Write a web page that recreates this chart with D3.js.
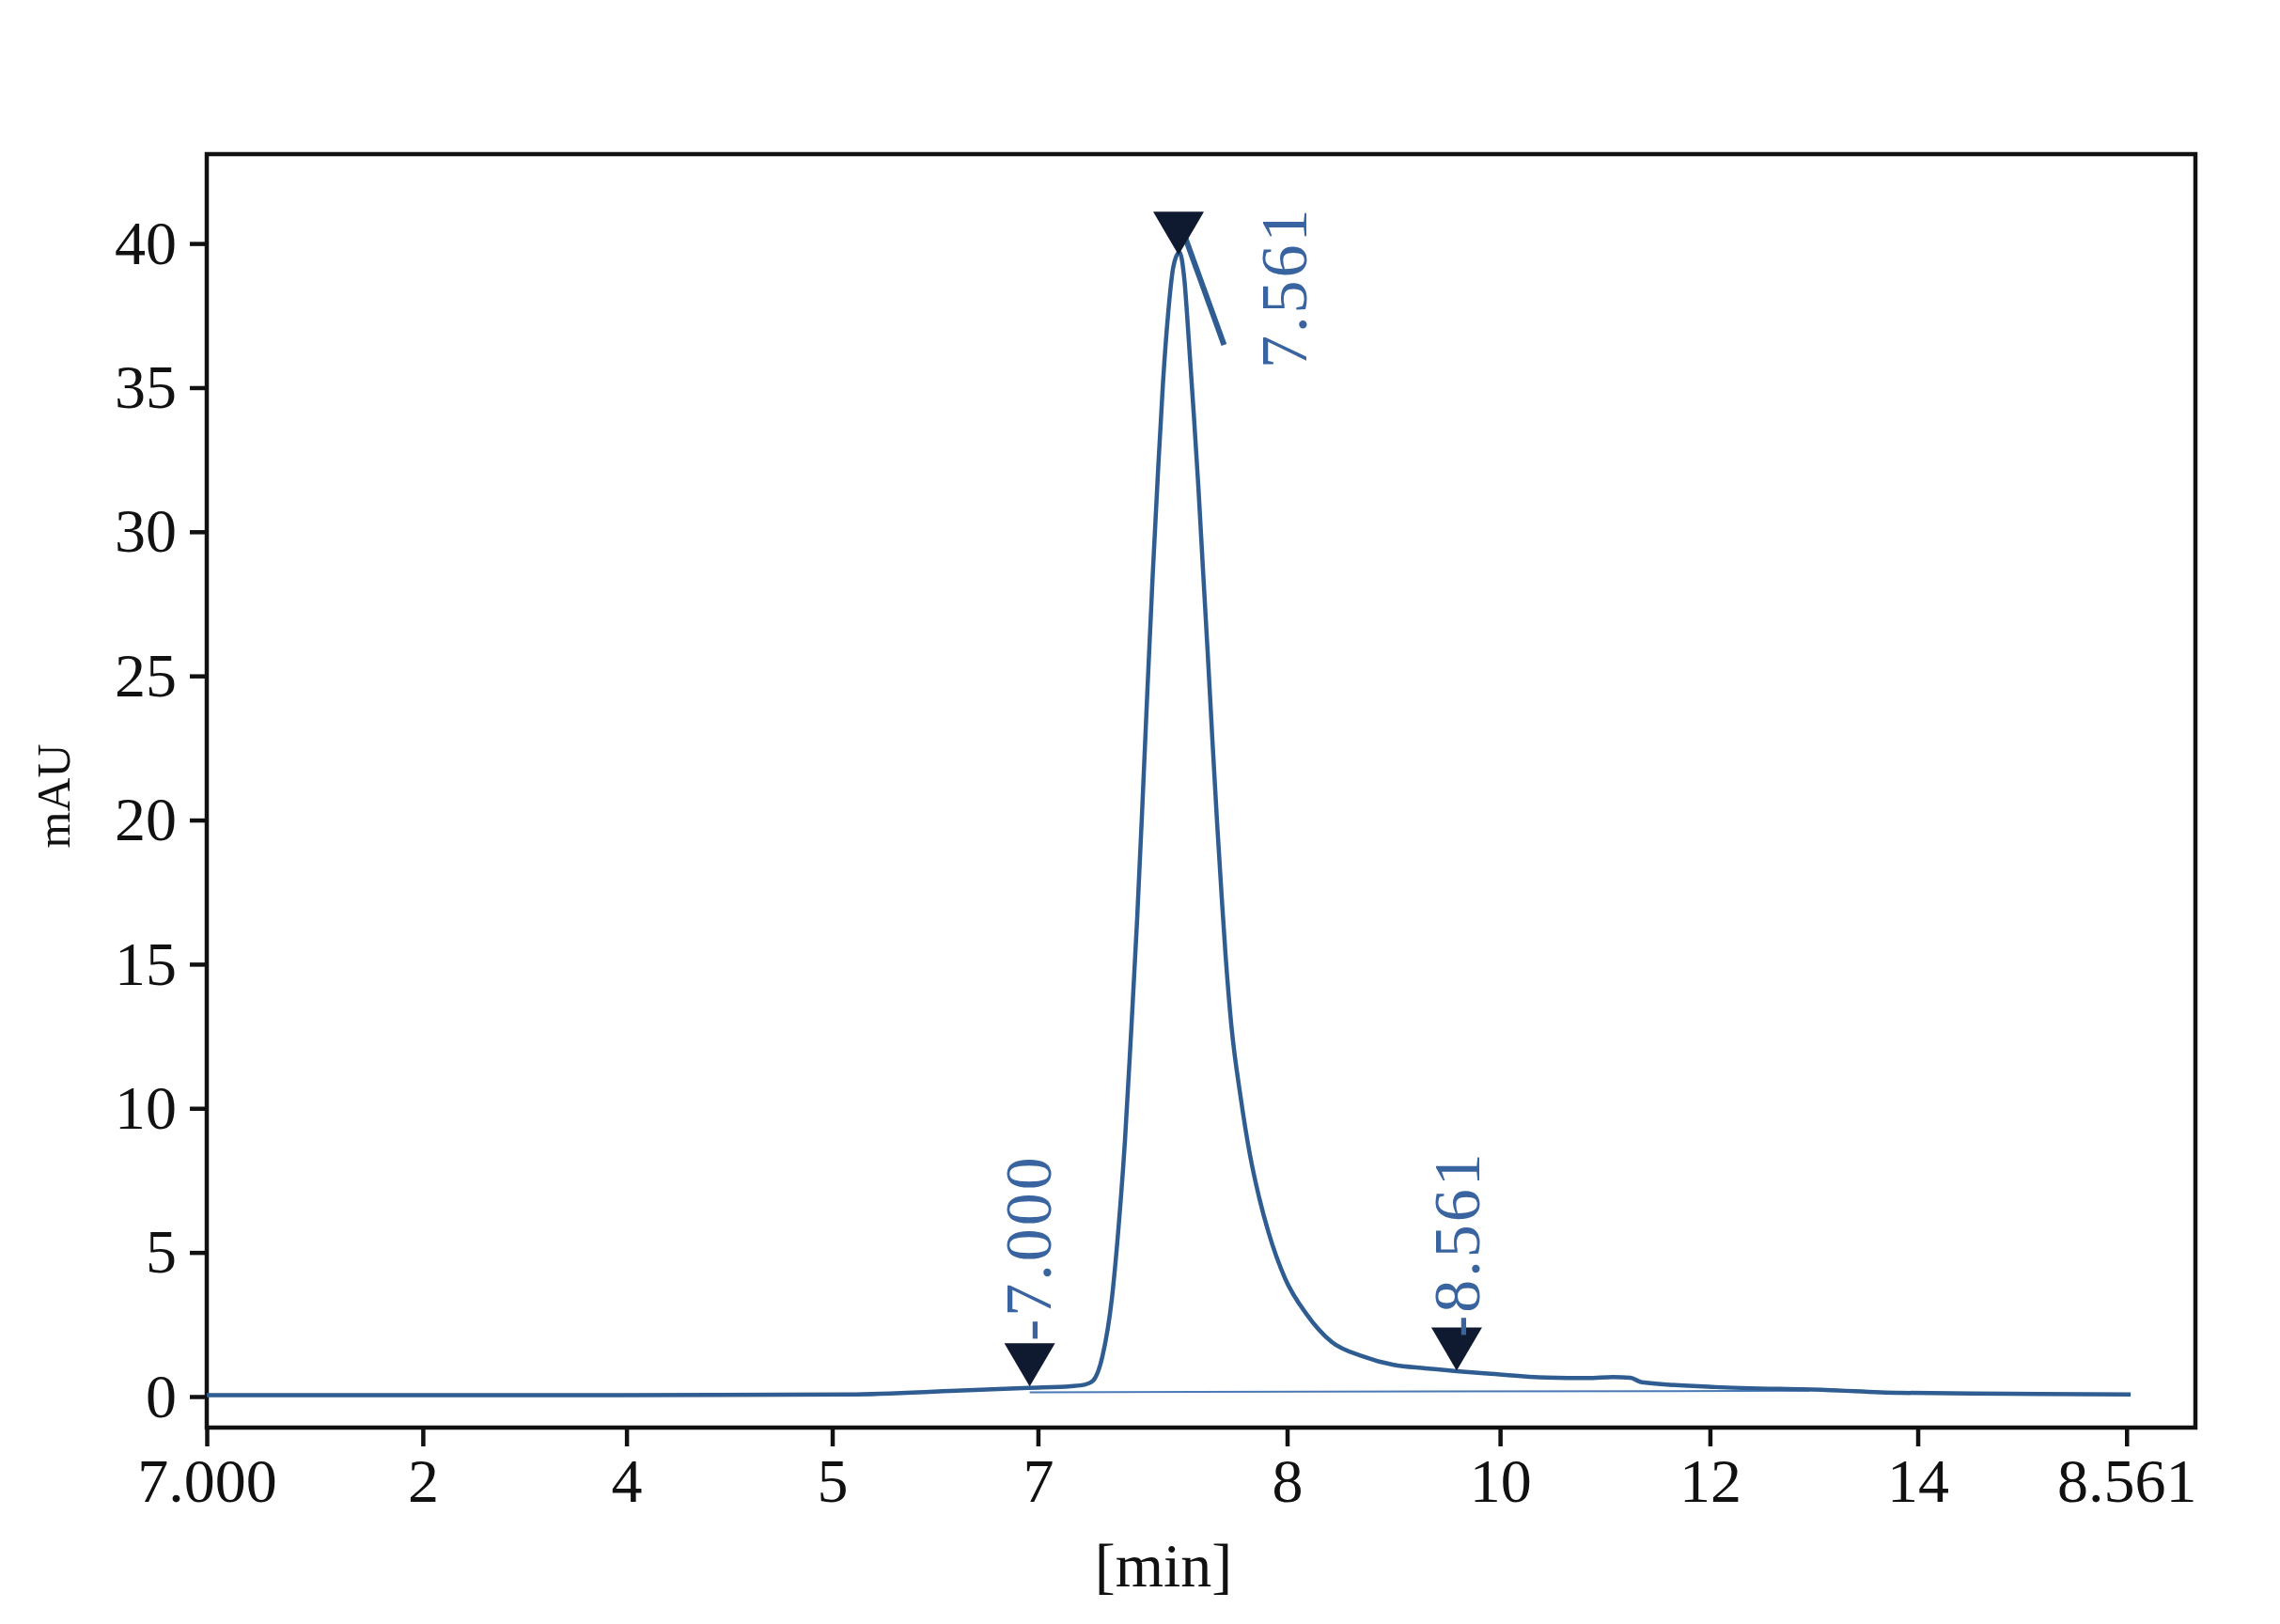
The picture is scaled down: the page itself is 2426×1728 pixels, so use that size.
<!DOCTYPE html>
<html>
<head>
<meta charset="utf-8">
<script src="https://cdn.jsdelivr.net/npm/d3@7/dist/d3.min.js"></script>
<style>
  html, body { margin: 0; padding: 0; background: #ffffff; }
  svg { display: block; }
  text { font-family: "Liberation Serif", "Times New Roman", serif; }
</style>
</head>
<body>
<svg id="chart" width="2426" height="1728"></svg>
<script>
// ---- data ----
const timeMin = [0, 2.09, 4.06, 6.21, 7.25, 7.95, 8.36, 8.50, 8.573, 8.664, 8.755, 8.818, 8.882, 8.936, 9.00, 9.05, 9.10, 9.15, 9.20, 9.25, 9.30, 9.35, 9.409, 9.455, 9.50, 9.545, 9.591, 9.636, 9.682, 9.727, 9.773, 9.818, 9.855, 9.91, 10.00, 10.09, 10.18, 10.27, 10.43, 10.64, 10.88, 11.18, 11.48, 11.79, 12.09, 12.39, 12.96, 13.36, 13.60, 13.77, 13.88, 14.59, 15.66, 16.37, 17.44, 18.61];
const signal = [0.05, 0.05, 0.05, 0.07, 0.2, 0.3, 0.36, 0.42, 0.55, 1.4, 3.4, 5.8, 8.9, 12.3, 16.6, 20.5, 24.6, 28.5, 32.0, 35.2, 37.6, 39.2, 39.7, 38.8, 36.6, 34.2, 31.6, 28.7, 25.8, 22.8, 19.9, 17.3, 15.3, 12.9, 10.4, 8.4, 6.9, 5.7, 4.1, 2.85, 1.9, 1.4, 1.1, 0.98, 0.88, 0.8, 0.66, 0.64, 0.68, 0.65, 0.5, 0.33, 0.23, 0.13, 0.10, 0.07];

const xTickValues = [0, 2.09, 4.06, 6.05, 8.04, 10.45, 12.51, 14.54, 16.55, 18.57];
const xTickLabels = ["7.000", "2", "4", "5", "7", "8", "10", "12", "14", "8.561"];
const yTickValues = [0, 5, 10, 15, 20, 25, 30, 35, 40];

const markerTimes = [7.96, 9.40, 12.09];
const markerValues = [0.35, 39.6, 0.9];
const markerLabels = ["-7.000", "7.561", "-8.561"];

const baselineTimes = [7.96, 15.5];
const baselineValues = [0.15, 0.2];

const peakLeaderTimes = [9.40, 9.84];
const peakLeaderValues = [40.85, 36.48];

// ---- drawing ----
(function () {
const svg = d3.select("#chart");
const mLeft = 220, mRight = 2336, mTop = 164, mBottom = 1519;

const x = d3.scaleLinear().domain([0, 19.236]).range([mLeft, mRight]);
const y = d3.scaleLinear().domain([-1.076, 43.1]).range([mBottom, mTop]);

const curveColor = "#2f5d91";
const labelColor = "#3a64a0";
const markerColor = "#0f1a30";
const serif = "'Liberation Serif', 'Times New Roman', serif";

svg.append("rect").attr("width", 2426).attr("height", 1728).attr("fill", "#ffffff");

// axes
const xAxis = d3.axisBottom(x)
  .tickValues(xTickValues)
  .tickFormat((d, i) => xTickLabels[i])
  .tickSize(20).tickPadding(12);
const gx = svg.append("g").attr("transform", `translate(0,${mBottom})`).call(xAxis);
gx.select(".domain").remove();
gx.selectAll(".tick line").attr("stroke", "#111").attr("stroke-width", 4.5);
gx.selectAll(".tick text").attr("font-size", 66).attr("fill", "#111")
  .attr("font-family", serif);

const yAxis = d3.axisLeft(y)
  .tickValues(yTickValues)
  .tickSize(18).tickPadding(14);
const gy = svg.append("g").attr("transform", `translate(${mLeft},0)`).call(yAxis);
gy.select(".domain").remove();
gy.selectAll(".tick line").attr("stroke", "#111").attr("stroke-width", 4.5);
gy.selectAll(".tick text").attr("font-size", 66).attr("fill", "#111")
  .attr("font-family", serif);

// frame
svg.append("rect")
  .attr("x", mLeft).attr("y", mTop)
  .attr("width", mRight - mLeft).attr("height", mBottom - mTop)
  .attr("fill", "none").attr("stroke", "#111").attr("stroke-width", 4.5);

// axis titles
svg.append("text")
  .attr("transform", `translate(74,847) rotate(-90)`)
  .attr("text-anchor", "middle")
  .attr("font-family", serif)
  .attr("font-size", 50).attr("fill", "#111")
  .text("mAU");
svg.append("text")
  .attr("x", 1238).attr("y", 1688)
  .attr("text-anchor", "middle")
  .attr("font-family", serif)
  .attr("font-size", 66).attr("fill", "#111")
  .text("[min]");

// baseline
const baseData = baselineTimes.map((t, i) => [t, baselineValues[i]]);
svg.append("path")
  .datum(baseData)
  .attr("fill", "none")
  .attr("stroke", "#4a7ab5")
  .attr("stroke-width", 2)
  .attr("d", d3.line().x(d => x(d[0])).y(d => y(d[1])));

// chromatogram
const data = timeMin.map((t, i) => [t, signal[i]]);
svg.append("path")
  .datum(data)
  .attr("fill", "none")
  .attr("stroke", curveColor)
  .attr("stroke-width", 4.5)
  .attr("stroke-linejoin", "round")
  .attr("d", d3.line().curve(d3.curveMonotoneX).x(d => x(d[0])).y(d => y(d[1])));

// peak leader line
const leader = peakLeaderTimes.map((t, i) => [t, peakLeaderValues[i]]);
svg.append("path")
  .datum(leader)
  .attr("fill", "none")
  .attr("stroke", curveColor)
  .attr("stroke-width", 6)
  .attr("d", d3.line().x(d => x(d[0])).y(d => y(d[1])));

// markers (downward triangles, tip at the point)
const tw = 27, th = 46;
markerTimes.forEach((t, i) => {
  const px = x(t), py = y(markerValues[i]);
  svg.append("path")
    .attr("d", `M${px},${py} L${px - tw},${py - th} L${px + tw},${py - th} Z`)
    .attr("fill", markerColor);
});

// marker labels (rotated)
const labelPos = [
  { dx: 22, yStart: 1427 },
  { dx: 136, yStart: 392 },
  { dx: 24, yStart: 1423 }
];
markerTimes.forEach((t, i) => {
  const px = x(t) + labelPos[i].dx;
  svg.append("text")
    .attr("transform", `translate(${px},${labelPos[i].yStart}) rotate(-90)`)
    .attr("text-anchor", "start")
    .attr("font-family", serif)
    .attr("font-size", 70)
    .attr("letter-spacing", 3)
    .attr("fill", labelColor)
    .text(markerLabels[i]);
});
})();
</script>
</body>
</html>
